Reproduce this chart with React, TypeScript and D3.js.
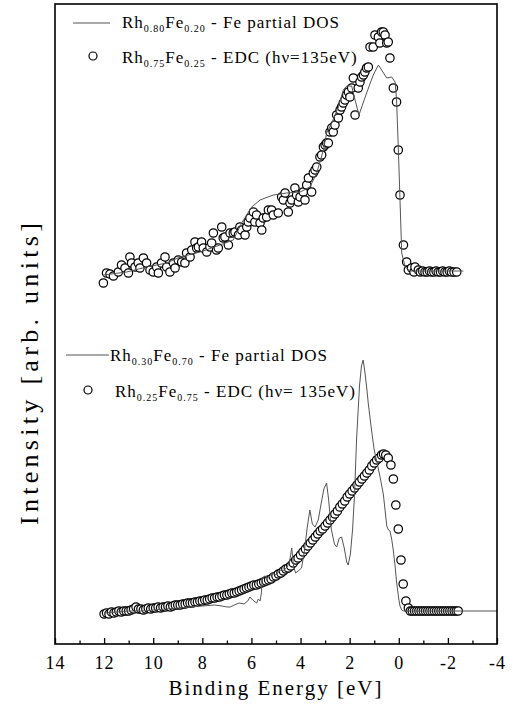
import React, { useEffect, useRef } from "react";
import * as d3 from "d3";

const W = 516;
const H = 704;

const majorTicks = [14, 12, 10, 8, 6, 4, 2, 0, -2, -4];
const minorTicks = [13, 11, 9, 7, 5, 3, 1, -1, -3];

// Top panel: Rh0.75Fe0.25 EDC (binding energy eV, intensity arb.)
const topEDC: [number, number][] = [
  [12.03,361],[11.90,371],[11.76,370],[11.62,368],[11.42,372],[11.29,379],[11.15,376],[11.01,371],[10.95,387],[10.88,381],
  [10.74,377],[10.61,381],[10.54,376],[10.40,386],[10.27,381],[10.13,374],[10.00,372],[9.86,377],[9.79,371],[9.66,381],
  [9.52,387],[9.45,377],[9.32,372],[9.18,381],[9.11,376],[8.98,384],[8.84,382],[8.71,381],[8.64,391],[8.50,387],
  [8.43,394],[8.30,402],[8.23,396],[8.16,397],[8.03,402],[7.96,396],[7.82,392],[7.69,397],[7.62,401],[7.55,411],
  [7.42,394],[7.35,396],[7.21,417],[7.15,406],[7.08,407],[6.94,399],[6.87,411],[6.74,411],[6.67,412],[6.53,409],
  [6.47,417],[6.40,414],[6.26,409],[6.19,417],[6.13,422],[6.06,426],[5.92,432],[5.86,422],[5.79,429],[5.65,421],
  [5.58,414],[5.52,426],[5.38,427],[5.31,434],[5.18,434],[5.11,429],[4.91,431],[4.77,447],[4.70,444],[4.63,451],
  [4.50,432],[4.43,441],[4.36,444],[4.23,456],[4.16,449],[4.09,442],[4.02,447],[3.89,452],[3.82,444],[3.75,459],
  [3.68,466],[3.55,452],[3.48,471],[3.41,474],[3.34,477],[3.21,487],[3.14,489],[3.07,497],[3.00,499],[2.94,501],
  [2.87,501],[2.80,512],[2.73,516],[2.67,512],[2.60,519],[2.53,529],[2.46,526],[2.39,534],[2.33,537],[2.26,541],
  [2.19,544],[2.12,549],[2.05,552],[1.99,547],[1.92,556],[1.85,566],[1.78,529],[1.65,556],[1.58,562],[1.51,567],
  [1.44,569],[1.38,572],[1.31,576],[1.24,577],[1.17,597],[1.04,597],[0.97,609],[0.83,607],[0.77,601],[0.70,612],
  [0.63,612],[0.56,609],[0.49,601],[0.43,602],[0.36,586],[0.22,556],[0.09,542],[0.02,494],[-0.05,449],[-0.19,399],
  [-0.32,382],[-0.39,374],[-0.52,376],[-0.62,372],[-0.66,377],[-0.80,374],[-0.88,372],[-0.97,373],[-1.07,372],[-1.16,372],
  [-1.25,373],[-1.34,372],[-1.43,372],[-1.52,373],[-1.61,372],[-1.70,372],[-1.79,373],[-1.88,372],[-1.97,372],[-2.06,373],
  [-2.15,372],[-2.25,372],[-2.36,372]
];

// Top panel: Rh0.80Fe0.20 Fe partial DOS
const topDOS: [number, number][] = [
  [12.03,369],[11.08,372],[10.27,377],[9.45,381],[8.91,387],[8.09,392],[7.28,399],[6.74,404],[6.40,421],[5.99,437],
  [5.65,444],[5.11,449],[4.57,451],[4.02,452],[3.62,457],[3.34,471],[3.07,494],[2.94,511],[2.73,521],[2.46,537],
  [2.26,554],[2.12,558],[1.92,558],[1.78,544],[1.62,529],[1.31,551],[1.04,569],[0.83,579],[0.70,574],[0.49,566],
  [0.29,567],[0.15,562],[0.09,544],[0.02,497],[-0.05,444],[-0.12,391],[-0.26,377],[-0.46,373],[-2.63,373]
];

// Bottom panel: Rh0.25Fe0.75 EDC
const bottomEDC: [number, number][] = [
  [12.0,30],[11.9,31],[11.8,30],[11.7,32],[11.6,31],[11.5,32],[11.4,33],[11.3,32],[11.2,33],[11.1,33],
  [11.0,33],[10.9,34],[10.8,35],[10.7,37],[10.6,35],[10.5,35],[10.4,34],[10.3,35],[10.2,36],[10.1,35],
  [10.0,36],[9.9,36],[9.8,37],[9.7,36],[9.6,37],[9.5,37],[9.4,38],[9.3,37],[9.2,38],[9.1,39],
  [9.0,39],[8.9,39],[8.8,40],[8.7,40],[8.6,41],[8.5,41],[8.4,41],[8.3,42],[8.2,42],[8.1,43],
  [8.0,43],[7.9,44],[7.8,44],[7.7,45],[7.6,46],[7.5,46],[7.4,47],[7.3,47],[7.2,48],[7.1,49],
  [7.0,49],[6.9,50],[6.8,51],[6.7,51],[6.6,52],[6.5,53],[6.4,54],[6.3,55],[6.2,56],[6.1,57],
  [6.0,58],[5.9,59],[5.8,59],[5.7,60],[5.6,61],[5.5,62],[5.4,63],[5.3,64],[5.2,65],[5.1,67],
  [5.0,68],[4.9,70],[4.8,71],[4.7,73],[4.6,75],[4.5,76],[4.4,78],[4.3,81],[4.2,84],[4.1,86],
  [4.0,89],[3.9,92],[3.8,95],[3.7,98],[3.6,101],[3.5,104],[3.4,107],[3.3,110],[3.2,113],[3.1,115],
  [3.0,118],[2.9,121],[2.8,124],[2.7,127],[2.6,130],[2.5,133],[2.4,137],[2.3,140],[2.2,143],[2.1,147],
  [2.0,150],[1.9,153],[1.8,156],[1.7,159],[1.6,162],[1.5,165],[1.4,168],[1.3,171],[1.2,174],[1.1,178],
  [1.0,181],[0.9,184],[0.8,186],[0.7,189],[0.62,190],[0.53,189],[0.43,186],[0.32,179],[0.22,165],[0.12,139],
  [0.02,115],[-0.09,84],[-0.18,60],[-0.29,43],[-0.39,36],[-0.47,33],[-0.55,33],[-0.64,33],[-0.73,33],[-0.82,33],
  [-0.91,33],[-1.0,33],[-1.09,33],[-1.18,33],[-1.27,33],[-1.36,33],[-1.45,33],[-1.54,33],[-1.63,33],[-1.72,33],
  [-1.81,33],[-1.9,33],[-1.99,33],[-2.08,33],[-2.17,33],[-2.26,33],[-2.34,33],[-2.42,33]
];

// Bottom panel: Rh0.30Fe0.70 Fe partial DOS
const bottomDOS: [number, number][] = [
  [12.0,31],[11.5,32],[11.0,33],[10.5,33],[10.0,34],[9.5,35],[9.0,36],[8.5,37],[8.0,38],[7.5,39],
  [7.2,38],[7.0,37],[6.87,37],[6.7,39],[6.5,41],[6.3,40],[6.15,43],[6.06,47],[5.95,44],[5.85,42],
  [5.79,41],[5.72,45],[5.65,43],[5.6,50],[5.56,66],[5.45,68],[5.3,66],[5.2,70],[5.11,71],[5.0,69],
  [4.9,72],[4.84,74],[4.7,73],[4.55,77],[4.45,82],[4.36,96],[4.28,77],[4.2,71],[4.1,73],[3.96,76],
  [3.85,92],[3.72,118],[3.62,134],[3.52,120],[3.41,117],[3.28,124],[3.15,142],[3.05,155],[2.94,161],[2.86,145],
  [2.75,115],[2.62,100],[2.53,97],[2.42,106],[2.33,107],[2.22,96],[2.12,82],[2.06,79],[1.97,90],[1.88,115],
  [1.8,150],[1.72,204],[1.6,258],[1.52,278],[1.45,284],[1.38,272],[1.3,255],[1.24,240],[1.1,212],[1.0,194],
  [0.9,183],[0.77,168],[0.63,150],[0.55,132],[0.49,118],[0.42,114],[0.36,113],[0.29,105],[0.23,95],[0.15,78],
  [0.09,62],[0.0,45],[-0.05,38],[-0.12,34],[-0.2,33],[-4.0,33]
];

const legendTop = [
  { rh: "0.80", fe: "0.20", rest: " - Fe partial DOS" },
  { rh: "0.75", fe: "0.25", rest: " - EDC (h\u03bd=135eV)" },
];
const legendBottom = [
  { rh: "0.30", fe: "0.70", rest: " - Fe partial DOS" },
  { rh: "0.25", fe: "0.75", rest: " - EDC (h\u03bd= 135eV)" },
];

const xLabel = "Binding Energy [eV]";
const yLabel = "Intensity [arb. units]";

const FONT = "'Liberation Serif', 'Times New Roman', Times, 'DejaVu Serif', serif";

const M = { left: 55, right: 497, top: 4, bottom: 644 };

type Leg = { rh: string; fe: string; rest: string };

function LegendText({ x, y, item }: { x: number; y: number; item: Leg }) {
  return (
    <text x={x} y={y} style={{ fontFamily: FONT, fontSize: 17, letterSpacing: 1 }} fill="#000">
      <tspan>Rh</tspan>
      <tspan dy={4} style={{ fontSize: 10 }}>{item.rh}</tspan>
      <tspan dy={-4}>Fe</tspan>
      <tspan dy={4} style={{ fontSize: 10 }}>{item.fe}</tspan>
      <tspan dy={-4}>{item.rest}</tspan>
    </text>
  );
}

export default function App() {
  const axisRef = useRef<SVGGElement>(null);
  const x = d3.scaleLinear().domain([14, -4]).range([M.left, M.right]);
  const y = d3.scaleLinear().domain([0, 640]).range([M.bottom, M.top]);
  const line = d3
    .line<[number, number]>()
    .x((d) => x(d[0]))
    .y((d) => y(d[1]));

  useEffect(() => {
    if (!axisRef.current) return;
    const g = d3.select(axisRef.current);
    g.selectAll("*").remove();
    const major = d3
      .axisBottom(x)
      .tickValues(majorTicks)
      .tickSizeInner(-6)
      .tickSizeOuter(0)
      .tickPadding(12)
      .tickFormat((d) => String(d));
    const gm = g.append("g").call(major as any);
    gm.attr("font-family", null).attr("font-size", null);
    gm.select(".domain").remove();
    gm.selectAll("line").attr("stroke", "#000").attr("stroke-width", 1.3);
    gm.selectAll("text")
      .style("font-family", FONT)
      .style("font-size", "18px")
      .style("letter-spacing", "1px")
      .attr("fill", "#000");
    const minor = d3
      .axisBottom(x)
      .tickValues(minorTicks)
      .tickSizeInner(-3.5)
      .tickSizeOuter(0)
      .tickFormat(() => "");
    const gn = g.append("g").call(minor as any);
    gn.select(".domain").remove();
    gn.selectAll("text").remove();
    gn.selectAll("line").attr("stroke", "#000").attr("stroke-width", 1.3);
  }, []);

  return (
    <div style={{ position: "absolute", left: 0, top: 0 }}>
      <svg width={W} height={H} style={{ display: "block", background: "#fff" }}>
        {/* EDC circles */}
        <g fill="#fff" stroke="#000" strokeWidth={1.2}>
          {topEDC.map((d, i) => (
            <circle key={"t" + i} cx={x(d[0])} cy={y(d[1])} r={4.2} />
          ))}
          {bottomEDC.map((d, i) => (
            <circle key={"b" + i} cx={x(d[0])} cy={y(d[1])} r={4.2} />
          ))}
        </g>
        {/* DOS lines */}
        <path d={line(topDOS) || ""} fill="none" stroke="#555" strokeWidth={1} />
        <path d={line(bottomDOS) || ""} fill="none" stroke="#555" strokeWidth={1} />

        {/* frame */}
        <rect
          x={M.left}
          y={M.top}
          width={M.right - M.left}
          height={M.bottom - M.top}
          fill="none"
          stroke="#000"
          strokeWidth={1.6}
        />
        <g ref={axisRef} transform={`translate(0,${M.bottom})`} />

        {/* legends */}
        <line x1={73} x2={110} y1={23} y2={23} stroke="#555" strokeWidth={1} />
        <LegendText x={122} y={28} item={legendTop[0]} />
        <circle cx={93} cy={56} r={4} fill="#fff" stroke="#000" strokeWidth={1.2} />
        <LegendText x={122} y={63} item={legendTop[1]} />

        <line x1={66} x2={109} y1={355} y2={355} stroke="#555" strokeWidth={1} />
        <LegendText x={110} y={361} item={legendBottom[0]} />
        <circle cx={88} cy={390} r={4} fill="#fff" stroke="#000" strokeWidth={1.2} />
        <LegendText x={115} y={397} item={legendBottom[1]} />

        {/* axis titles */}
        <text
          x={(M.left + M.right) / 2}
          y={695}
          textAnchor="middle"
          style={{ fontFamily: FONT, fontSize: 21, letterSpacing: 2 }}
          fill="#000"
        >
          {xLabel}
        </text>
        <text
          transform={`translate(38,372) rotate(-90)`}
          textAnchor="middle"
          style={{ fontFamily: FONT, fontSize: 26, letterSpacing: 4.3 }}
          fill="#000"
        >
          {yLabel}
        </text>
      </svg>
    </div>
  );
}
